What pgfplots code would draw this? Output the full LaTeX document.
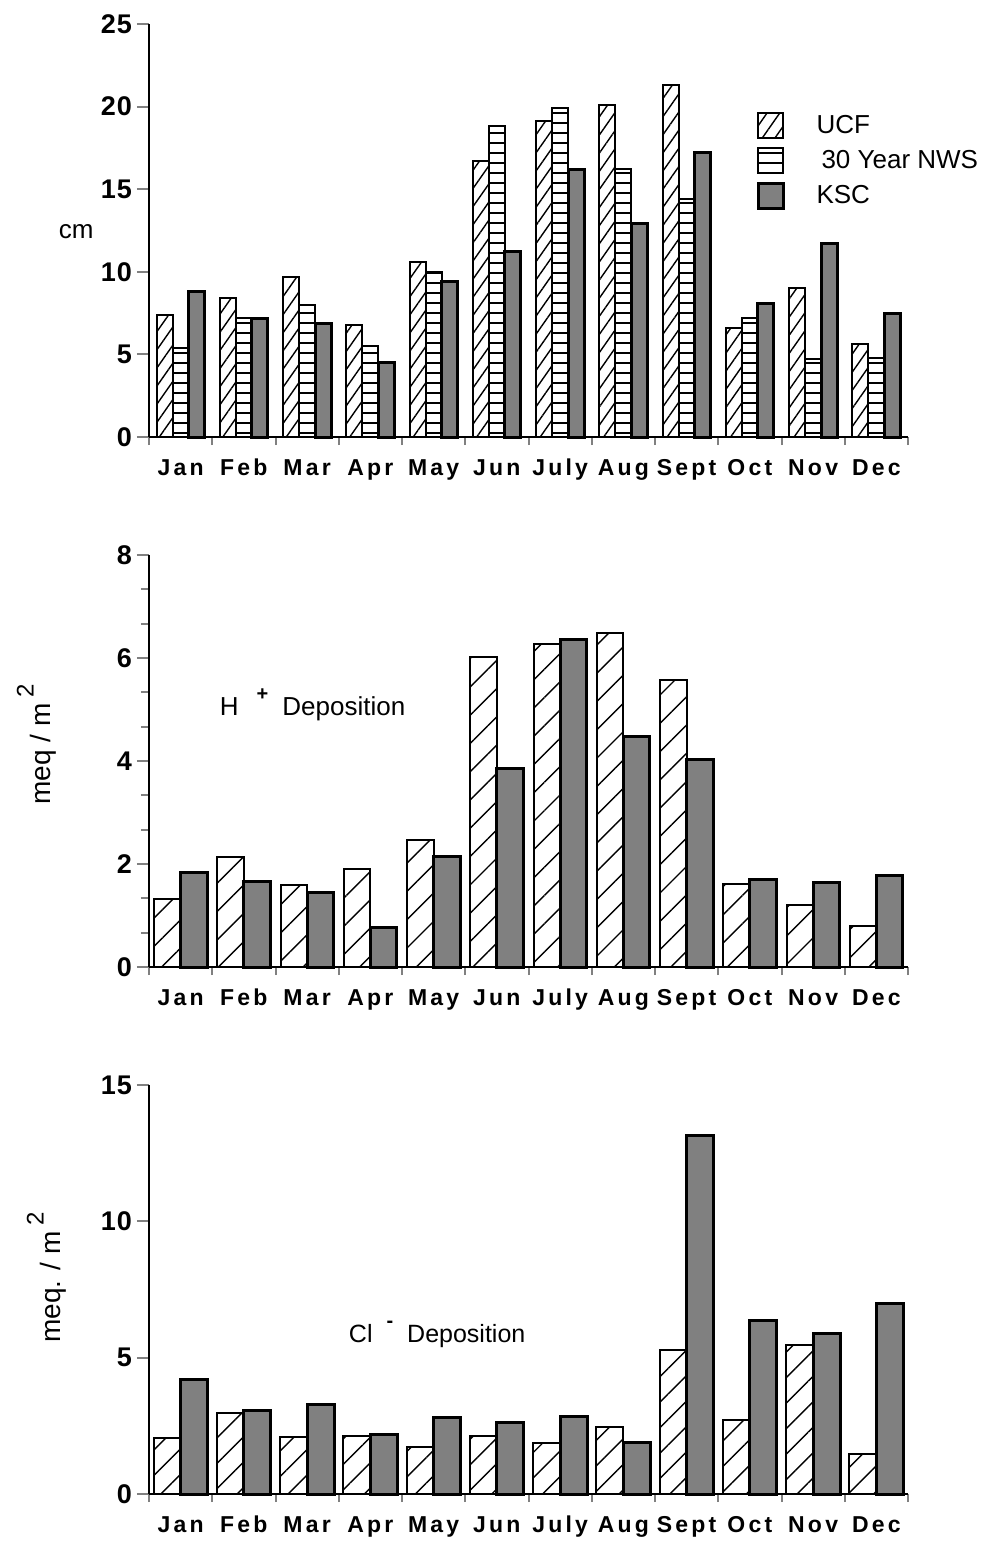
\documentclass[border=0pt]{standalone}
\usepackage{fontspec}
\setmainfont{Liberation Sans}
\newfontfamily\tickfont[LetterSpace=14]{Liberation Sans}
\newfontfamily\numfont[LetterSpace=4]{Liberation Sans}
\usepackage{pgfplots}
\usepackage{pgfplotstable}
\pgfplotsset{compat=1.18}
\usetikzlibrary{patterns.meta}

\pgfplotstableread{
x ucf nws ksc
0 7.4 5.4 8.8
1 8.4 7.2 7.2
2 9.7 8.0 6.9
3 6.8 5.5 4.5
4 10.6 10.0 9.4
5 16.7 18.8 11.2
6 19.1 19.9 16.2
7 20.1 16.2 12.9
8 21.3 14.4 17.2
9 6.6 7.2 8.1
10 9.0 4.7 11.7
11 5.6 4.8 7.5
}\rain

\pgfplotstableread{
x ucf ksc
0 1.33 1.83
1 2.14 1.67
2 1.60 1.44
3 1.90 0.77
4 2.46 2.14
5 6.02 3.86
6 6.28 6.36
7 6.49 4.48
8 5.58 4.03
9 1.62 1.70
10 1.21 1.65
11 0.80 1.77
}\hdep

\pgfplotstableread{
x ucf ksc
0 2.07 4.20
1 2.98 3.07
2 2.10 3.29
3 2.11 2.20
4 1.72 2.80
5 2.12 2.62
6 1.86 2.85
7 2.45 1.88
8 5.30 13.15
9 2.70 6.35
10 5.45 5.90
11 1.48 7.00
}\cldep

\pgfplotsset{
  base/.style={
    scale only axis,
    width=379.5pt,
    xmin=-0.5, xmax=11.5,
    ymin=0,
    clip=false,
    axis x line=bottom, axis y line=left,
    axis line style={-, line width=1.2pt},
    xtick={0,...,11},
    xticklabels={Jan,Feb,Mar,Apr,May,Jun,July,Aug,Sept,Oct,Nov,Dec},
    major x tick style={draw=none},
    minor xtick={-0.5,0.5,...,11.5},
    minor x tick style={line width=1pt},
    minor tick length=4pt,
    major tick length=6pt,
    major y tick style={line width=1pt},
    tick align=outside,
    xticklabel style={font=\tickfont\bfseries\fontsize{11.5}{13}\selectfont, anchor=base, yshift=-13pt, text height=8pt, text depth=2pt},
    yticklabel style={font=\numfont\bfseries\fontsize{13.5}{15}\selectfont, xshift=1pt},
    /pgf/number format/assume math mode=true,
    ucf/.style={ybar, draw=black, line width=1pt},
    nws/.style={ybar, draw=black, line width=1pt, pattern={Lines[angle=0,distance=5pt,line width=0.7pt]}},
    ksc/.style={ybar, draw=black, line width=1.5pt, fill=black!50},
    legend image code/.code={\draw[##1] (0pt,-6.25pt) rectangle (12.5pt,6.25pt);},
  }
}

\begin{document}
\begin{tikzpicture}
\path[use as bounding box] (0,0) rectangle (497pt,-776.5pt);

% ---------- top: rainfall ----------
\begin{axis}[base,
  at={(74.5pt,-218.5pt)}, anchor=south west,
  height=206.5pt, ymax=25, ytick={0,5,...,25},
  ylabel={cm},
  ylabel style={rotate=-90, at={(axis description cs:-0.096,0.497)}, anchor=center, font=\fontsize{13}{15}\selectfont},
  legend style={at={(rel axis cs:0.792,0.80)}, anchor=north west, draw=none, fill=none,
    font=\fontsize{13}{15}\selectfont, row sep=3pt,
    /tikz/every odd column/.append style={column sep=14pt}},
  legend cell align=left,
]
\addplot[ucf, bar width=8pt, bar shift=-8pt, pattern={Lines[angle=55,distance=5.2pt,line width=0.7pt]}] table[x=x,y=ucf]{\rain};
\addlegendentry{UCF}
\addplot[nws, bar width=8pt, bar shift=0pt] table[x=x,y=nws]{\rain};
\addlegendentry{\hspace{2.5pt}30 Year NWS}
\addplot[ksc, bar width=8pt, bar shift=8pt] table[x=x,y=ksc]{\rain};
\addlegendentry{KSC}
\end{axis}

% ---------- middle: H+ ----------
\begin{axis}[base,
  at={(74.5pt,-483.5pt)}, anchor=south west,
  height=206pt, ymax=8, ytick={0,2,...,8},
  minor y tick num=2, minor y tick style={line width=1pt},
  ylabel={meq / m\hspace{3pt}\raisebox{0.6em}{\fontsize{12}{13}\selectfont 2}},
  ylabel style={at={(axis description cs:-0.148,0.54)}, anchor=center, font=\fontsize{14}{16}\selectfont},
]
\addplot[ucf, bar width=13.25pt, bar shift=-6.625pt, pattern={Lines[angle=45,distance=10pt,line width=0.7pt]}] table[x=x,y=ucf]{\hdep};
\addplot[ksc, bar width=13.25pt, bar shift=6.625pt] table[x=x,y=ksc]{\hdep};
\node[anchor=base west, font=\fontsize{13}{15}\selectfont] at (axis cs:0.51,4.89)
  {H\hspace{9pt}\raisebox{0.55em}{\fontsize{10}{12}\selectfont\bfseries +}\hspace{7pt}Deposition};
\end{axis}

% ---------- bottom: Cl- ----------
\begin{axis}[base,
  at={(74.5pt,-747pt)}, anchor=south west,
  height=204.5pt, ymax=15, ytick={0,5,10,15},
  ylabel={meq. / m\hspace{3pt}\raisebox{0.6em}{\fontsize{12}{13}\selectfont 2}},
  ylabel style={at={(axis description cs:-0.135,0.53)}, anchor=center, font=\fontsize{14}{16}\selectfont},
]
\addplot[ucf, bar width=13.5pt, bar shift=-6.75pt, pattern={Lines[angle=45,distance=9pt,line width=0.7pt]}] table[x=x,y=ucf]{\cldep};
\addplot[ksc, bar width=13.5pt, bar shift=6.75pt] table[x=x,y=ksc]{\cldep};
\node[anchor=base west, font=\fontsize{12.5}{15}\selectfont] at (axis cs:2.55,5.57)
  {Cl\hspace{7pt}\raisebox{0.6em}{\fontsize{10}{12}\selectfont\bfseries -}\hspace{7pt}Deposition};
\end{axis}
\end{tikzpicture}
\end{document}
